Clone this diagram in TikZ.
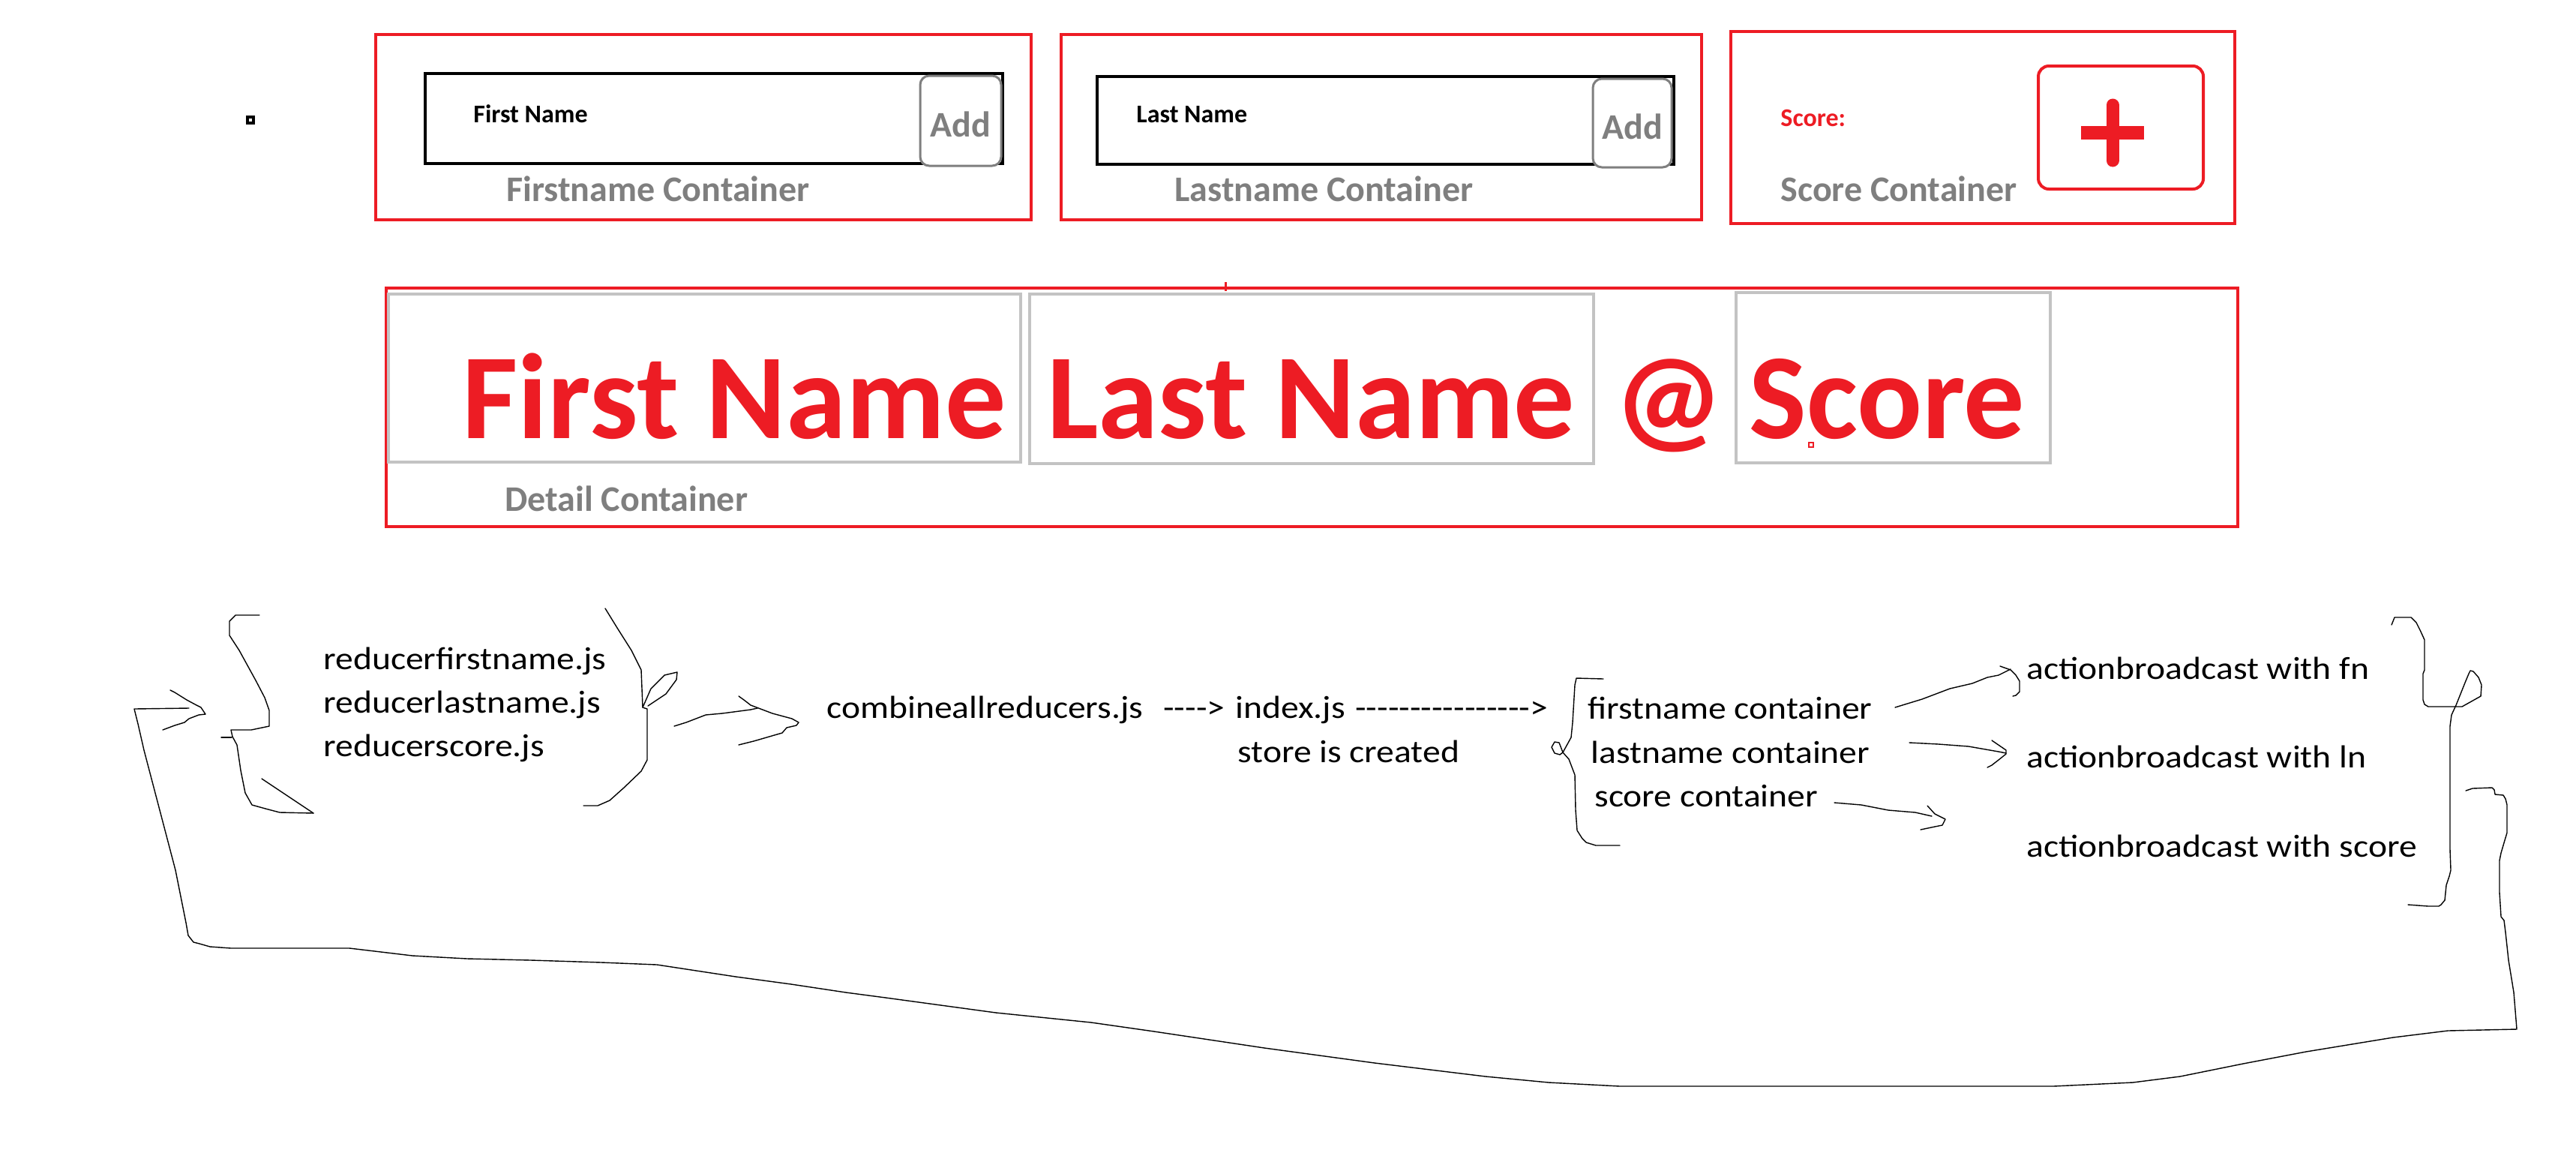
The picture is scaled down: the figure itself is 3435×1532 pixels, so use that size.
\documentclass[tikz,border=0pt]{standalone}
\usepackage{fontspec}
\setmainfont{Carlito}
\newfontfamily\handfont[FakeStretch=1.12]{Carlito}
\usetikzlibrary{fit}
\definecolor{pred}{HTML}{ED1C24}
\definecolor{lbl}{HTML}{7F7F7F}
\definecolor{lgray}{HTML}{C3C3C3}
\newcommand\hy{-\kern0pt}
\begin{document}
\begin{tikzpicture}[x=0.5pt,y=-0.5pt,
  redbox/.style={draw=pred,line width=2pt,inner sep=0pt},
  inbox/.style={draw=black,line width=2.2pt,inner sep=0pt},
  addbtn/.style={draw=lbl,line width=1.5pt,rounded corners=6pt,fill=white,inner sep=0pt},
  graybox/.style={draw=lgray,line width=2pt,inner sep=0pt},
  lbltext/.style={anchor=base west,inner sep=0pt,text=lbl,font=\fontsize{24}{28}\selectfont\bfseries},
  addtext/.style={inner sep=0pt,text=lbl,font=\fontsize{24}{28}\selectfont\bfseries},
  smalltext/.style={anchor=base west,inner sep=0pt,font=\fontsize{17}{20}\selectfont\bfseries},
  bigred/.style={anchor=base west,inner sep=0pt,text=pred,font=\fontsize{81}{90}\selectfont\bfseries},
  hand/.style={anchor=base west,inner sep=0pt,font=\handfont\fontsize{21.25}{25}\selectfont},
  pen/.style={draw=black,line width=0.7pt,line join=round,line cap=round},
]
\useasboundingbox (0,0) rectangle (3435,1532);
\fill[white] (0,0) rectangle (3435,1532);

% small black marker
\node[draw=black,line width=1.8pt,minimum size=4.2pt,inner sep=0pt] (dot) at (334,160) {};

% Firstname container
\node[redbox,fit={(501,46) (1375,293)}] (fc) {};
\node[inbox,fit={(567,98) (1337,218)}] (fin) {};
\node[addbtn,fit={(1227,101) (1335,221)}] (fadd) {};
\node[addtext] (faddt) at ([yshift=-2.5pt]fadd.center) {Add};
\node[smalltext] (fname) at (631,163) {First Name};
\node[lbltext] (flbl) at (675,268) {Firstname Container};

% Lastname container
\node[redbox,fit={(1415,46) (2269,293)}] (lc) {};
\node[inbox,fit={(1463,102) (2232,219)}] (lin) {};
\node[addbtn,fit={(2124,105) (2229,223)}] (ladd) {};
\node[addtext] (laddt) at ([yshift=-2.5pt]ladd.center) {Add};
\node[smalltext] (lname) at (1515,163) {Last Name};
\node[lbltext] (llbl) at (1566,268) {Lastname Container};

% Score container
\node[redbox,fit={(2308,42) (2980,298)}] (sc) {};
\node[smalltext,text=pred] (sname) at (2374,168) {Score:};
\node[draw=pred,line width=2pt,rounded corners=7pt,inner sep=0pt,fit={(2718,88) (2938,252)}] (plus) {};
\draw[pred,line width=8.5pt,line cap=round] (2817,140) -- (2817,214);
\draw[pred,line width=9pt] (2775,177) -- (2859,177);
\node[lbltext] (slbl) at (2374,268) {Score Container};

% Detail container
\node[redbox,line width=2.2pt,fit={(515,384) (2984,702)}] (dc) {};
\draw[pred,line width=1.5pt] (1634,376) -- (1634,388);
\node[graybox,fit={(518,392) (1361,616)}] (g1) {};
\node[graybox,fit={(1373,392) (2125,618)}] (g2) {};
\node[graybox,fit={(2315,390) (2734,617)}] (g3) {};
\node[bigred] (bfn) at (616,584) {First Name};
\node[bigred] (bln) at (1396,584) {Last Name};
\node[bigred] (bat) at (2152,584) {@};
\node[bigred] (bsc) at (2332,584) {Score};
\node[draw=pred,line width=1pt,minimum size=3pt,inner sep=0pt] (sq) at (2415,593) {};
\node[lbltext] (dlbl) at (673,681) {Detail Container};

% bottom flow texts
\node[hand] (r1) at (431,892) {reducerfirstname.js};
\node[hand] (r2) at (431,950) {reducerlastname.js};
\node[hand] (r3) at (431,1008) {reducerscore.js};
\node[hand] (comb) at (1102,957) {combineallreducers.js};
\node[hand] (d1) at (1551,957) {\hy\hy\hy\hy>};
\node[hand] (idx) at (1647,957) {index.js};
\node[hand] (d2) at (1807,957) {\hy\hy\hy\hy\hy\hy\hy\hy\hy\hy\hy\hy\hy\hy\hy\hy>};
\node[hand] (store) at (1650,1016) {store is created};
\node[hand] (c1) at (2117,958) {firstname container};
\node[hand] (c2) at (2121,1017) {lastname container};
\node[hand] (c3) at (2126,1075) {score container};
\node[hand] (a1) at (2702,905) {actionbroadcast with fn};
\node[hand] (a2) at (2702,1023) {actionbroadcast with ln};
\node[hand] (a3) at (2702,1142) {actionbroadcast with score};

% reducers left brace
\draw[pen] (346,820) -- (314,820) -- (306,828) -- (306,847) -- (319,867) -- (341,907) -- (353,930) -- (359,947) -- (359,968) -- (335,973) -- (308,973) -- (310,982) -- (316,993) -- (321,1027) -- (327,1057) -- (336,1073) -- (354,1078) -- (373,1083) -- (418,1084);
\draw[pen] (349,1038) -- (418,1084);
\draw[pen] (295,983) -- (309,983);
% reducers right bracket
\draw[pen] (807,811) -- (823,837) -- (842,867) -- (855,893) -- (857,943) -- (863,945) -- (863,1013) -- (855,1028) -- (832,1050) -- (813,1067) -- (797,1074) -- (778,1074);
\draw[pen] (857,943) -- (868,918) -- (886,900) -- (903,896) -- (902,906) -- (888,925) -- (864,941);
% arrow reducers -> combine
\draw[pen] (899,968) -- (915,963) -- (941,953) -- (963,951) -- (1001,946) -- (1010,944);
\draw[pen] (985,928) -- (992,933) -- (1001,940) -- (1030,951) -- (1056,958) -- (1065,963) -- (1062,967) -- (1049,970) -- (1043,977) -- (1036,979) -- (1005,988) -- (985,993);

% container brace
\draw[pen] (2138,905) -- (2102,904) -- (2100,913) -- (2097,963) -- (2095,983) -- (2084,1003) -- (2079,990) -- (2073,989) -- (2069,996) -- (2073,1004) -- (2080,1006) -- (2084,1003) -- (2092,1012) -- (2100,1033) -- (2101,1080) -- (2103,1107) -- (2110,1118) -- (2115,1123) -- (2128,1127) -- (2160,1127);

% arrows to action broadcasts
\draw[pen] (2527,943) -- (2563,932) -- (2600,918) -- (2630,911) -- (2650,903) -- (2665,900) -- (2681,892);
\draw[pen] (2667,888) -- (2681,893) -- (2688,900) -- (2693,908) -- (2693,922) -- (2688,927) -- (2684,928);
\draw[pen] (2546,990) -- (2585,992) -- (2625,995) -- (2665,1002) -- (2675,1004);
\draw[pen] (2656,987) -- (2675,1000) -- (2675,1005) -- (2665,1013) -- (2656,1020) -- (2650,1023);
\draw[pen] (2446,1070) -- (2482,1073) -- (2518,1080) -- (2554,1083) -- (2576,1088);
\draw[pen] (2570,1074) -- (2580,1085) -- (2594,1092) -- (2590,1100) -- (2580,1102) -- (2561,1106);

% right bracket A
\draw[pen] (3189,833) -- (3193,823) -- (3215,823) -- (3222,830) -- (3228,842) -- (3233,853) -- (3233,893) -- (3231,898) -- (3231,933) -- (3233,939) -- (3238,942) -- (3283,942) -- (3308,928) -- (3309,913) -- (3305,903) -- (3298,895) -- (3294,894) -- (3292,898) -- (3287,910) -- (3275,940) -- (3269,953) -- (3267,968) -- (3267,1133) -- (3268,1160) -- (3266,1168) -- (3262,1180) -- (3260,1200) -- (3255,1206) -- (3252,1208) -- (3238,1208) -- (3211,1206);

% feedback loop
\draw[pen] (3288,1054) -- (3297,1051) -- (3323,1050) -- (3326,1053) -- (3327,1059) -- (3338,1060) -- (3341,1065) -- (3343,1073) -- (3343,1110) -- (3340,1120) -- (3335,1137) -- (3333,1147) -- (3333,1190) -- (3335,1222) -- (3339,1227) -- (3341,1243) -- (3345,1280) -- (3352,1323) -- (3356,1372) -- (3264,1374) -- (3191,1383) -- (3075,1402) -- (2991,1418) -- (2907,1435) -- (2844,1443) -- (2738,1448) -- (2160,1448) -- (2065,1443) -- (1981,1435) -- (1833,1417) -- (1686,1397) -- (1539,1375) -- (1455,1363) -- (1328,1350) -- (1181,1330) -- (1128,1323) -- (1055,1312) -- (981,1302) -- (876,1286) -- (802,1283) -- (708,1280) -- (623,1278) -- (550,1274) -- (466,1264) -- (308,1264) -- (280,1262) -- (266,1258) -- (258,1256) -- (251,1247) -- (248,1230) -- (234,1160) -- (213,1080) -- (192,1000) -- (184,965) -- (179,945) -- (252,944);
\draw[pen] (227,920) -- (233,923) -- (249,933) -- (262,940) -- (268,943) -- (274,952) -- (265,953) -- (252,958) -- (246,963) -- (233,967) -- (217,973);
\end{tikzpicture}
\end{document}
